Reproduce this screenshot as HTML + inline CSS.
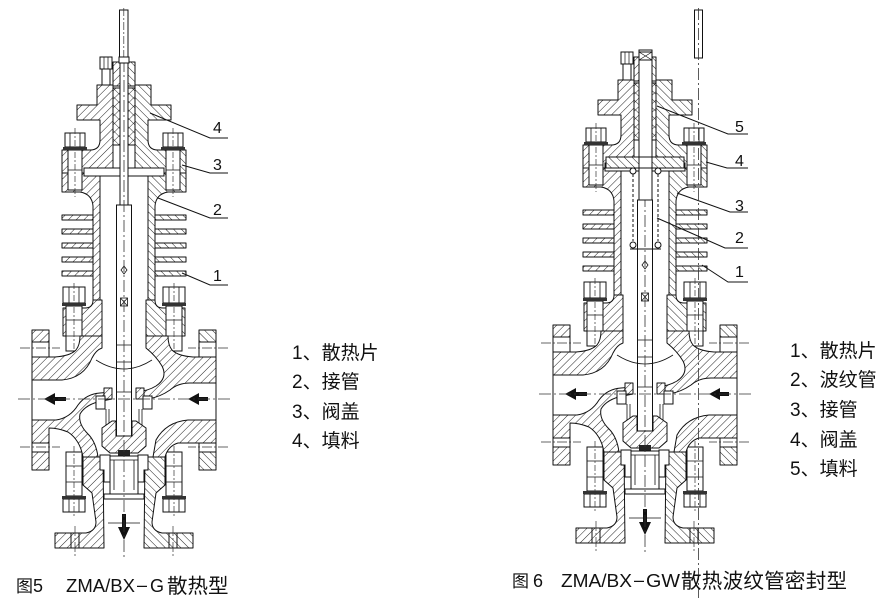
<!DOCTYPE html>
<html><head><meta charset="utf-8">
<style>
html,body{margin:0;padding:0;background:#fff;}
svg{display:block;}
text{font-family:"Liberation Sans","Noto Sans CJK SC",sans-serif;fill:#111;}
</style></head><body>
<svg width="886" height="605" viewBox="0 0 886 605" xmlns="http://www.w3.org/2000/svg" xmlns:xlink="http://www.w3.org/1999/xlink">
<defs>
<pattern id="h" patternUnits="userSpaceOnUse" width="5.5" height="5.5" patternTransform="rotate(45)">
<rect width="5.5" height="5.5" fill="#fff"/>
<line x1="0" y1="0" x2="0" y2="5.5" stroke="#222" stroke-width="1"/>
</pattern>
<pattern id="h2" patternUnits="userSpaceOnUse" width="5.5" height="5.5" patternTransform="rotate(-45)">
<rect width="5.5" height="5.5" fill="#fff"/>
<line x1="0" y1="0" x2="0" y2="5.5" stroke="#222" stroke-width="1"/>
</pattern>
<pattern id="x" patternUnits="userSpaceOnUse" width="6" height="6" patternTransform="rotate(45)">
<rect width="6" height="6" fill="#fff"/>
<line x1="0" y1="0" x2="0" y2="6" stroke="#222" stroke-width="0.9"/>
<line x1="0" y1="0" x2="6" y2="0" stroke="#222" stroke-width="0.9"/>
</pattern>

<g id="half">
 <g fill="url(#h)" stroke="#111" stroke-width="1" stroke-linejoin="round">
  <path d="M113,85 L97,85 L97,105 L77,105 L77,120 L100,120 L100,140 Q100,150 90,150 L62,150 L62,173 L113,173 Z"/>
  <path d="M113,62 L120,62 L120,86 L113,86 Z"/>
  <path d="M62,173 L62,192 L80,192 Q92,194 93,206 L93,302 L100,302 L100,173 Z"/>
  <rect x="62" y="215" width="31" height="5"/>
  <rect x="62" y="229" width="31" height="5"/>
  <rect x="62" y="243" width="31" height="5"/>
  <rect x="62" y="257" width="31" height="5"/>
  <rect x="62" y="271" width="31" height="5"/>
  <path d="M93,300 Q93,308 85,308 L63,308 L63,336 L102,336 L102,300 Z"/>
  <rect x="32" y="330" width="17" height="12"/>
  <rect x="32" y="452" width="17" height="18"/>
  <path d="M83,457 L103,457 L104,548 L55,548 L55,533 L86,533 Q96,531 96,522 L92,493 L83,485 Z"/>
 </g>
 <rect x="113" y="88" width="7" height="57" fill="url(#x)" stroke="#111"/>
 <rect x="84" y="168" width="40" height="8" fill="#fff" stroke="#111"/>
 <g stroke="#111" stroke-width="1" fill="none">
  <path d="M32,330 V470 M49,342 V357 M49,443 V452 M71,533 V548 M79,533 V548"/>
 </g>
 <g stroke="#333" stroke-width="0.7" fill="none" stroke-dasharray="10 2 2 2">
  <path d="M20,348 H60 M20,447 H60 M75,526 V557"/>
 </g>
 <g fill="#fff" stroke="#111" stroke-width="1">
  <rect x="65" y="133" width="20" height="14"/>
  <rect x="68" y="150" width="14" height="40"/>
  <rect x="63" y="287" width="22" height="16"/>
  <rect x="66" y="306" width="16" height="45"/>
  <rect x="66" y="452" width="16" height="44"/>
  <rect x="63" y="499" width="22" height="13"/>
 </g>
 <g fill="#333">
  <rect x="63" y="147" width="24" height="3"/>
  <rect x="62" y="303" width="24" height="3"/>
  <rect x="62" y="496" width="24" height="3"/>
 </g>
 <g stroke="#111" stroke-width="0.8" fill="none">
  <path d="M70,133 V147 M80,133 V147 M69,287 V303 M79,287 V303 M69,499 V512 M79,499 V512 M68,170 H82 M66,320 H82 M66,336 H82 M66,466 H82 M66,482 H82"/>
 </g>
 <g stroke="#333" stroke-width="0.7" fill="none" stroke-dasharray="6 2 2 2">
  <path d="M75,128 V197 M74,283 V356 M74,446 V517"/>
 </g>
</g>

<g id="figA">
 <use xlink:href="#half"/>
 <use xlink:href="#half" transform="matrix(-1,0,0,1,248,0)"/>
 <g fill="url(#h)" stroke="#111" stroke-width="1" stroke-linejoin="round">
  <path d="M32,357 L55,357 Q70,356 76,350 Q80,345 80,336 L102,336 L102,348 Q96,350 92,358 Q84,378 62,380 L32,380 Z"/>
  <path d="M216,357 L193,357 Q178,356 172,350 Q168,345 168,336 L146,336 L146,348 Q156,356 162,366 Q168,378 156,386 Q148,391 136,392 L136,399 L148,399 Q160,397 170,390 Q178,383 190,383 L216,383 Z"/>
  <path d="M32,420 L56,420 Q70,418 78,405 Q86,394 100,393 L112,392 L112,399 L102,401 Q86,404 80,414 Q78,424 88,434 Q96,442 98,457 L83,457 Q80,440 68,432 Q58,428 49,428 L49,443 L32,443 Z"/>
  <path d="M216,420 L188,420 Q166,422 156,440 L153,457 L165,457 Q168,446 178,443 L216,443 Z"/>
  <rect x="104" y="388" width="8" height="11"/>
  <rect x="136" y="388" width="8" height="11"/>
 </g>
 <g fill="#fff" stroke="#111" stroke-width="1">
  <rect x="100" y="57" width="12" height="12"/>
  <rect x="102" y="69" width="8" height="16"/>
 </g>
 <path d="M104,57 V69 M108,57 V69" stroke="#111" stroke-width="0.7"/>
 <g fill="#fff" stroke="#111" stroke-width="1">
  <rect x="120" y="60" width="8" height="146"/>
  <rect x="116.5" y="205" width="15" height="231"/>
  <rect x="96" y="396" width="9" height="13"/>
  <rect x="143" y="396" width="9" height="13"/>
 </g>
 <path d="M116.5,345 H131.5 M116.5,362 H131.5 M116.5,392 H131.5" stroke="#111" stroke-width="0.8"/>
 <path d="M124,266 L127,270 L124,274 L121,270 Z" fill="none" stroke="#111" stroke-width="0.8"/>
 <rect x="120.5" y="298" width="7" height="8" fill="#fff" stroke="#111" stroke-width="0.8"/>
 <path d="M120.5,298 L127.5,306 M127.5,298 L120.5,306" stroke="#111" stroke-width="0.7"/>
 <path d="M106,409 V428 M109,409 V428 M139,409 V428 M142,409 V428" stroke="#111" stroke-width="0.8"/>
 <path d="M102,428 L112,421 L116,421 L116,436 L132,436 L132,421 L136,421 L146,428 L146,446 L138,453 L110,453 L102,446 Z" fill="url(#h)" stroke="#111"/>
 <rect x="118" y="450" width="12" height="6" fill="#222"/>
 <g fill="#fff" stroke="#111" stroke-width="1">
  <path d="M100,455 L110,455 L110,482 L104,482 L104,470 L100,470 Z"/>
  <path d="M148,455 L138,455 L138,482 L144,482 L144,470 L148,470 Z"/>
  <rect x="110" y="456" width="28" height="38"/>
  <rect x="104" y="494" width="40" height="5"/>
 </g>
 <path d="M114,460 V490 M134,460 V490 M110,460 H138" stroke="#111" stroke-width="0.8" fill="none"/>
 <path d="M96,360 Q124,378 152,360" stroke="#111" stroke-width="0.8" fill="none"/>
 <path d="M108,523 H140" stroke="#111" stroke-width="0.8"/>
 <path d="M44,399 L55,393 L55,397 L66,397 L66,401 L55,401 L55,405 Z" fill="#111"/>
 <path d="M188,399 L199,393 L199,397 L208,397 L208,401 L199,401 L199,405 Z" fill="#111"/>
 <path d="M122,514 L126,514 L126,527 L130,527 L124,540 L118,527 L122,527 Z" fill="#111"/>
 <g stroke="#333" stroke-width="0.8" fill="none" stroke-dasharray="12 3 2 3">
  <path d="M18,399 H232 M124,60 V557"/>
 </g>
</g>
</defs>

<!-- LEFT FIGURE -->
<use xlink:href="#figA"/>
<rect x="119.5" y="10" width="8.5" height="48" fill="#fff" stroke="#111"/>
<path d="M123.8,8 V58" stroke="#333" stroke-width="0.7" stroke-dasharray="8 2 2 2"/>
<rect x="119" y="57" width="10" height="6" fill="#fff" stroke="#111"/>

<g stroke="#111" stroke-width="1" fill="none">
 <polyline points="150,113 210,138 228,138"/>
 <polyline points="182,165 210,173 228,173"/>
 <polyline points="158,198 210,218 228,218"/>
 <polyline points="182,273 210,285 228,285"/>
</g>
<g font-size="16">
 <text x="213" y="133">4</text>
 <text x="213" y="170">3</text>
 <text x="213" y="215">2</text>
 <text x="213" y="281">1</text>
</g>

<g font-size="19">
 <text x="292" y="359">1、散热片</text>
 <text x="292" y="388">2、接管</text>
 <text x="292" y="418">3、阀盖</text>
 <text x="292" y="447">4、填料</text>
</g>

<g font-size="18">
 <text x="16" y="592" font-size="17">图</text>
 <text x="33" y="592">5</text>
 <text x="66" y="592" textLength="69" lengthAdjust="spacingAndGlyphs">ZMA/BX</text>
 <text x="137" y="591">–</text>
 <text x="150" y="592">G</text>
 <text x="167" y="593" font-size="20.5">散热型</text>
</g>

<!-- RIGHT FIGURE -->
<use xlink:href="#figA" transform="translate(521,-5)"/>
<rect x="639" y="50" width="13" height="150" fill="#fff" stroke="#111"/>
<rect x="639" y="52" width="13" height="8" fill="#fff" stroke="#111"/>
<path d="M639,52 L652,60 M652,52 L639,60" stroke="#111" stroke-width="0.7"/>
<rect x="606" y="157" width="78" height="11" fill="url(#h2)" stroke="#111"/>
<rect x="639" y="157" width="13" height="11" fill="#fff" stroke="#111"/>
<g stroke="#111" stroke-width="1" fill="none" stroke-dasharray="3 2">
 <path d="M633,174 V241 M658,174 V241"/>
</g>
<g fill="#fff" stroke="#111" stroke-width="1">
 <circle cx="633" cy="171" r="3"/>
 <circle cx="658" cy="171" r="3"/>
 <circle cx="633" cy="245" r="3"/>
 <circle cx="658" cy="245" r="3"/>
</g>
<path d="M630,249 H661" stroke="#111" stroke-width="1"/>
<rect x="694.5" y="10" width="8" height="48" fill="#fff" stroke="#111"/>
<path d="M698.5,8 V598" stroke="#333" stroke-width="0.8" stroke-dasharray="12 3 2 3" fill="none"/>

<g stroke="#111" stroke-width="1" fill="none">
 <polyline points="657,106 728,134 748,134"/>
 <polyline points="706,162 727,168 748,168"/>
 <polyline points="677,193 730,212 748,212"/>
 <polyline points="657,218 725,248 748,248"/>
 <polyline points="702,265 728,282 748,282"/>
</g>
<g font-size="16">
 <text x="735" y="132">5</text>
 <text x="735" y="166">4</text>
 <text x="735" y="211">3</text>
 <text x="735" y="243">2</text>
 <text x="735" y="277">1</text>
</g>

<g font-size="19">
 <text x="790" y="357">1、散热片</text>
 <text x="790" y="386">2、波纹管</text>
 <text x="790" y="416">3、接管</text>
 <text x="790" y="446">4、阀盖</text>
 <text x="790" y="475">5、填料</text>
</g>

<g font-size="18">
 <text x="512" y="587" font-size="17">图</text>
 <text x="533" y="587">6</text>
 <text x="561" y="587" textLength="71" lengthAdjust="spacingAndGlyphs">ZMA/BX</text>
 <text x="634" y="586">–</text>
 <text x="646" y="587" textLength="34" lengthAdjust="spacingAndGlyphs">GW</text>
 <text x="681" y="588" font-size="20.5" textLength="166" lengthAdjust="spacing">散热波纹管密封型</text>
</g>
</svg>
</body></html>
